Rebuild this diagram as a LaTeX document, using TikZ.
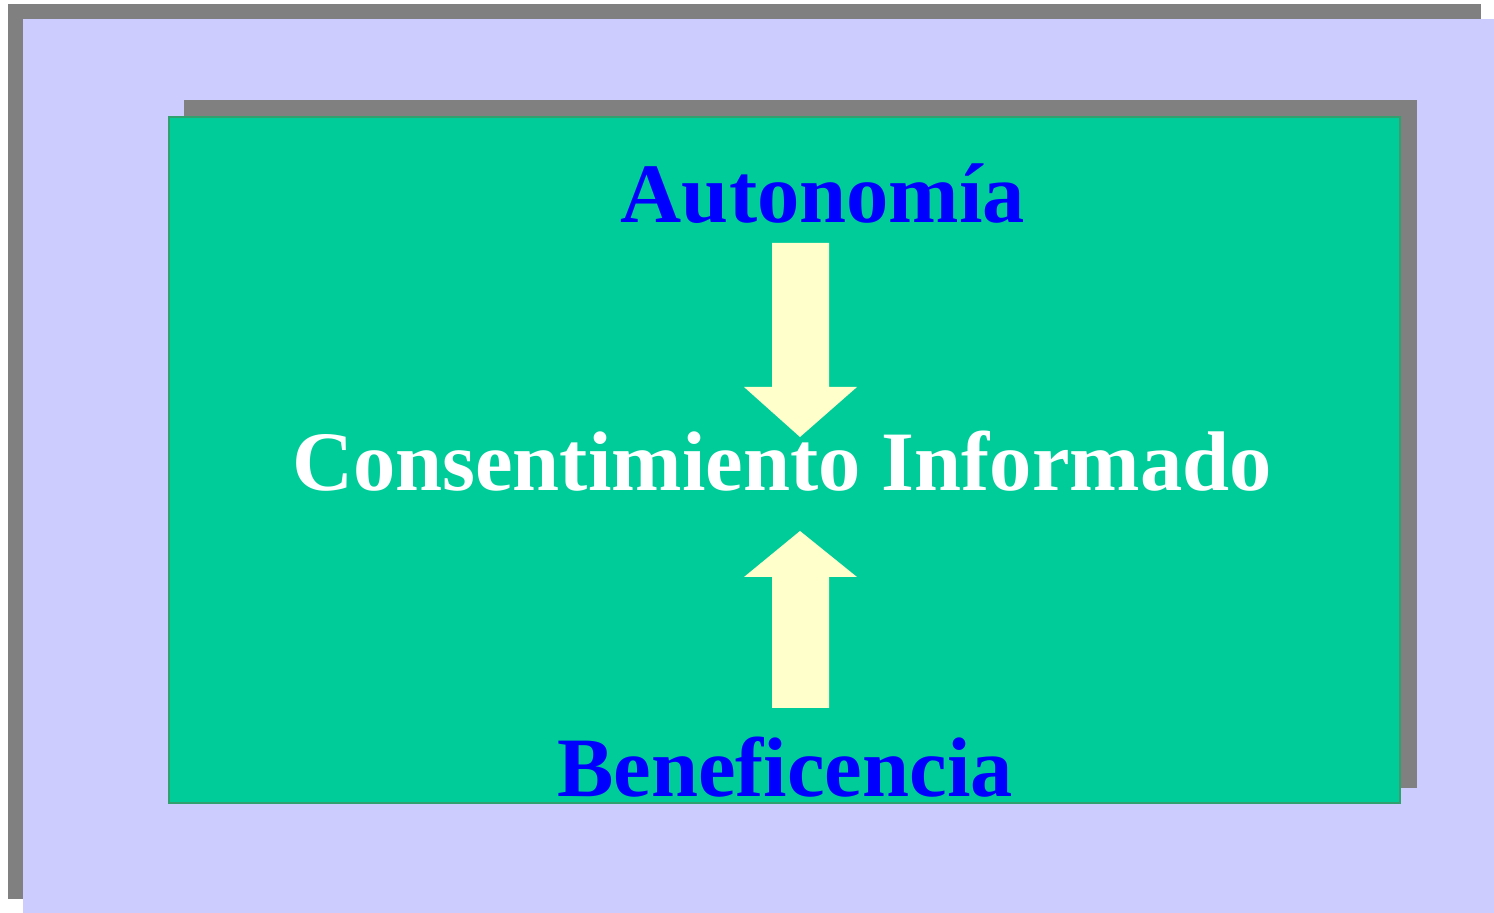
\documentclass[tikz,border=0pt]{standalone}
\usepackage{fontspec}
\setmainfont{Liberation Serif}
\definecolor{lila}{HTML}{CCCCFF}
\definecolor{sombra}{HTML}{808080}
\definecolor{verde}{HTML}{00CC99}
\definecolor{bordeverde}{HTML}{33A070}
\definecolor{crema}{HTML}{FFFFCC}
\definecolor{azul}{HTML}{0000FF}
\begin{document}
\begin{tikzpicture}[x=0.5pt,y=-0.5pt, line join=miter,
	titulo/.style={anchor=base, inner sep=0pt, font=\fontsize{42.3}{50}\selectfont\bfseries},
	flecha/.style={fill=crema, draw=none}]
	\def\W{1494} \def\H{913} % Medidas
	\useasboundingbox (0,0) rectangle (\W,\H);
	% marco exterior
	\fill[sombra] (8,4) rectangle (1481,899);
	\fill[lila] (23,19) rectangle (\W,\H);
	% caja verde
	\fill[sombra] (184,100) rectangle (1417,788);
	\draw[fill=verde, draw=bordeverde, line width=1pt] (169,117) rectangle (1400,803);
	% flechas
	\fill[flecha] (772,243)--(829,243)--(829,387)--(857,387)--(800,437)--(744,387)--(772,387)--cycle;
	\fill[flecha] (800,531)--(857,577)--(829,577)--(829,708)--(772,708)--(772,577)--(744,577)--cycle;
	% textos
	\node[titulo, text=azul] (auto) at (823,223) {Autonomía};
	\node[titulo, text=white] (ci) at (782,491) {Consentimiento Informado};
	\node[titulo, text=azul] (benef) at (785,797) {Beneficencia};
\end{tikzpicture}
\end{document}
